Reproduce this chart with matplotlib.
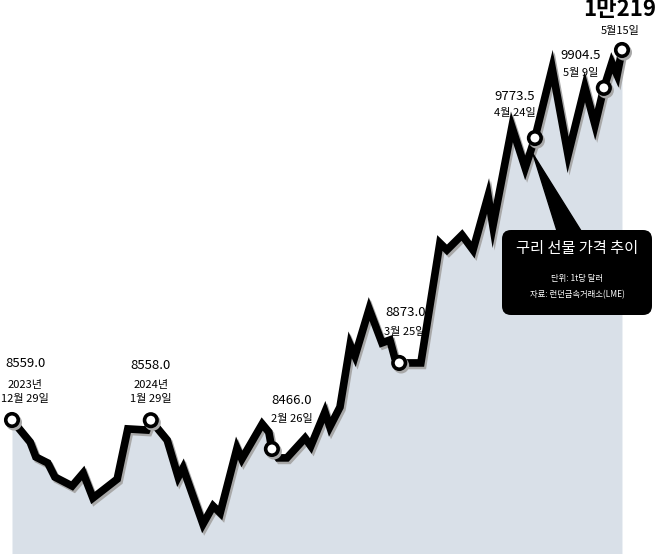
import matplotlib
matplotlib.use('Agg')
import matplotlib.pyplot as plt
import matplotlib.patheffects as pe
from matplotlib.patches import FancyBboxPatch, Polygon

# days since 2023-12-29 and copper futures price (USD per tonne)
days = [0, 4.1, 5.4, 8.1, 9.7, 13.6, 16.1, 18.3, 23.8, 26.2,
        30.5, 31.4, 35.1, 37.6, 38.7, 43.2, 45.5, 47.1, 50.9, 52.0,
        56.6, 58.1, 58.8, 60.2, 62.2, 66.3, 67.6, 70.8, 71.9, 74.2,
        76.5, 77.6, 80.8, 83.7, 85.5, 86.6, 87.6, 92.5, 96.8, 98.4,
        101.8, 104.3, 107.7, 108.8, 113.1, 116.1, 118.3, 122.2, 125.8, 129.6,
        131.9, 133.9, 135.7, 136.9, 138.0]
prices = [8559, 8460, 8393, 8366, 8303, 8263, 8321, 8209, 8294, 8519,
          8514, 8558, 8469, 8303, 8344, 8092, 8173, 8142, 8433, 8384,
          8541, 8505, 8429, 8389, 8389, 8478, 8442, 8595, 8528, 8617,
          8896, 8846, 9057, 8905, 8918, 8837, 8815, 8815, 9353, 9322,
          9389, 9322, 9564, 9429, 9874, 9690, 9824, 10138, 9748, 10053,
          9883, 10049, 10161, 10107, 10219]

# highlighted points
mark_idx = [0, 11, 22, 36, 46, 51, 54]
mark_values = ['8559.0', '8558.0', '8466.0', '8873.0', '9773.5', '9904.5', '1만219']
mark_dates = ['2023년\n12월 29일', '2024년\n1월 29일', '2월 26일', '3월 25일',
              '4월 24일', '5월 9일', '5월15일']

title = '구리 선물 가격 추이'
unit_note = '단위: 1t당 달러'
source_note = '자료: 런던금속거래소(LME)'

W, H = 658, 554
korean = ['Noto Sans CJK KR', 'DejaVu Sans']


def px(x, y):
    # picture pixels (top-left origin) -> inches for fig.dpi_scale_trans
    return x / 100, (H - y) / 100


fig = plt.figure(figsize=(W / 100, H / 100), dpi=100)
ax = fig.add_axes([0, 0, 1, 1])
ax.set_xlim(-2.715, 146.15)
ax.set_ylim(7957.8, 10443.3)
ax.axis('off')

ax.fill_between(days, prices, 7957.8, color='#d9e0e8', lw=0, zorder=1)
shadow = [pe.SimpleLineShadow(offset=(1.4, -1.8), shadow_color='#a8a8a8', alpha=1), pe.Normal()]
ax.plot(days, prices, color='black', lw=5.5, solid_joinstyle='miter',
        solid_capstyle='butt', zorder=3, path_effects=shadow)

mx = [days[i] for i in mark_idx]
my = [prices[i] for i in mark_idx]
ax.plot(mx, my, 'o', ms=9, mfc='white', mec='black', mew=2.6, zorder=4,
        path_effects=shadow)

# label offsets in pixels: (dx, value up, date up)
offsets = [(13, 56, 28), (0, 55, 28), (20, 48, 30), (6, 50, 31),
           (-20, 42, 25), (-23, 32, 15), (-2, 40, 19)]
for k, i in enumerate(mark_idx):
    dx, vy, dy = offsets[k]
    if k == len(mark_idx) - 1:
        ax.annotate(mark_values[k], (days[i], prices[i]), xytext=(dx, vy),
                    textcoords='offset pixels', ha='center', va='center',
                    fontsize=16, fontweight='bold', family=korean, zorder=5)
    else:
        ax.annotate(mark_values[k], (days[i], prices[i]), xytext=(dx, vy),
                    textcoords='offset pixels', ha='center', va='center',
                    fontsize=9.5, family=korean, zorder=5)
    ax.annotate(mark_dates[k], (days[i], prices[i]), xytext=(dx, dy),
                textcoords='offset pixels', ha='center', va='center',
                fontsize=8, family=korean, linespacing=1.5, zorder=5)

# callout box
tr = fig.dpi_scale_trans
ax.add_patch(Polygon([px(533, 154), px(558, 234), px(583, 234)], closed=True,
                     transform=tr, color='black', zorder=6))
x0, y0 = px(502, 315)
ax.add_patch(FancyBboxPatch((x0, y0), 1.50, 0.85, boxstyle='round,pad=0,rounding_size=0.09',
                            transform=tr, fc='black', ec='none', zorder=6))
ax.text(*px(577, 248), title, transform=tr, color='white', fontsize=11,
        family=korean, ha='center', va='center', zorder=7)
ax.text(*px(577, 279), unit_note, transform=tr, color='white', fontsize=6,
        family=korean, ha='center', va='center', zorder=7)
ax.text(*px(577, 295), source_note, transform=tr, color='white', fontsize=6,
        family=korean, ha='center', va='center', zorder=7)

fig.savefig('out.png', dpi=100)
